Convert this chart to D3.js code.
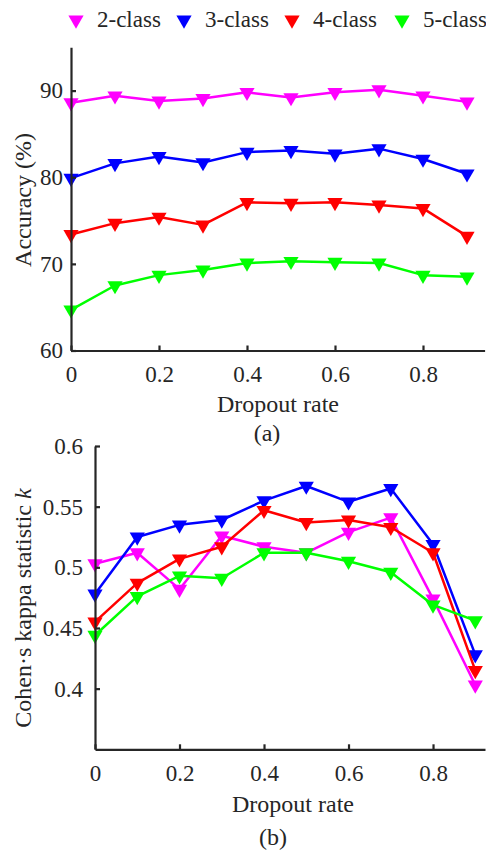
<!DOCTYPE html>
<html>
<head>
<meta charset="utf-8">
<script src="https://cdn.jsdelivr.net/npm/d3@7"></script>
</head>
<body style="margin:0;background:#fff">
<script>
// dropout rates on the x axis
var rates = [0, 0.1, 0.2, 0.3, 0.4, 0.5, 0.6, 0.7, 0.8, 0.9];
var classes = ["2-class", "3-class", "4-class", "5-class"];
var colors = ["#ff00ff", "#0000ff", "#ff0000", "#00ff00"];

// (a) accuracy in %
var acc2 = [88.6, 89.4, 88.8, 89.1, 89.8, 89.2, 89.8, 90.1, 89.4, 88.7];
var acc3 = [79.9, 81.6, 82.4, 81.7, 82.9, 83.1, 82.7, 83.3, 82.1, 80.4];
var acc4 = [73.4, 74.7, 75.4, 74.5, 77.1, 77.0, 77.1, 76.8, 76.4, 73.2];
var acc5 = [64.7, 67.5, 68.7, 69.3, 70.1, 70.3, 70.2, 70.1, 68.7, 68.5];

// (b) Cohen's kappa
var kap2 = [0.503, 0.512, 0.482, 0.526, 0.517, 0.512, 0.529, 0.541, 0.474, 0.403];
var kap3 = [0.478, 0.525, 0.535, 0.539, 0.555, 0.567, 0.554, 0.565, 0.519, 0.428];
var kap4 = [0.455, 0.487, 0.507, 0.517, 0.547, 0.537, 0.539, 0.533, 0.512, 0.415];
var kap5 = [0.444, 0.476, 0.493, 0.491, 0.512, 0.512, 0.505, 0.496, 0.469, 0.456];

var accTicks = [60, 70, 80, 90];
var kapTicks = [0.4, 0.45, 0.5, 0.55, 0.6];
var xTicks = [0, 0.2, 0.4, 0.6, 0.8];

var W = 486, H = 852;
var FONT = '"Liberation Serif", "Times New Roman", serif';
var axisColor = '#262626';

var svg = d3.select('body').append('svg')
  .attr('width', W).attr('height', H);

var tri = d3.symbol().type(d3.symbolTriangle).size(100);

function label(sel, size) {
  return sel.style('font-family', FONT).style('font-size', size + 'px')
    .style('fill', axisColor);
}

function drawPanel(opts) {
  var x = d3.scaleLinear().domain(opts.xDomain).range(opts.xRange);
  var y = d3.scaleLinear().domain(opts.yDomain).range(opts.yRange);
  var g = svg.append('g');

  var line = d3.line()
    .x(function(d, i) { return x(rates[i]); })
    .y(function(d) { return y(d); });

  opts.series.forEach(function(vals, k) {
    g.append('path')
      .attr('d', line(vals))
      .attr('fill', 'none')
      .attr('stroke', colors[k])
      .attr('stroke-width', 2.5)
      .attr('stroke-linejoin', 'round');
    g.selectAll('.m' + k).data(vals).enter().append('path')
      .attr('d', tri)
      .attr('fill', colors[k])
      .attr('transform', function(d, i) {
        return 'translate(' + x(rates[i]) + ',' + y(d) + ') rotate(180)';
      });
  });

  // left + bottom axes, ticks pointing inward
  var yAxis = g.append('g')
    .attr('transform', 'translate(' + opts.xRange[0] + ',0)')
    .call(d3.axisLeft(y).tickValues(opts.yTicks).tickSizeInner(-5).tickSizeOuter(0)
      .tickPadding(opts.yPad).tickFormat(d3.format('')));
  var xAxis = g.append('g')
    .attr('transform', 'translate(0,' + opts.yRange[0] + ')')
    .call(d3.axisBottom(x).tickValues(xTicks).tickSizeInner(-5).tickSizeOuter(0)
      .tickPadding(15).tickFormat(d3.format('')));

  [yAxis, xAxis].forEach(function(a) {
    a.select('.domain').attr('stroke', axisColor).attr('stroke-width', 2.2);
    a.selectAll('line').attr('stroke', axisColor).attr('stroke-width', 2.2);
    label(a.selectAll('text'), 23);
  });

  label(svg.append('text'), 24)
    .attr('x', opts.xLabelX).attr('y', opts.xLabelY)
    .attr('text-anchor', 'middle')
    .text('Dropout rate');

  label(svg.append('text'), 24)
    .attr('x', opts.capX).attr('y', opts.capY)
    .attr('text-anchor', 'middle')
    .text(opts.caption);

  var yl = label(svg.append('text'), 24)
    .attr('transform', 'translate(' + opts.yLabelX + ',' + opts.yLabelY + ') rotate(-90)')
    .attr('text-anchor', 'middle');
  opts.yLabel(yl);
}

drawPanel({
  xDomain: [0, 0.94], xRange: [71, 484.6],
  yDomain: [60, 95], yRange: [350.5, 47.3],
  yTicks: accTicks, yPad: 8,
  series: [acc2, acc3, acc4, acc5],
  xLabelX: 278, xLabelY: 412, capX: 267, capY: 441, caption: '(a)',
  yLabelX: 31, yLabelY: 200,
  yLabel: function(t) { t.text('Accuracy (%)'); }
});

drawPanel({
  xDomain: [0, 0.923], xRange: [95, 485],
  yDomain: [0.35, 0.6], yRange: [749.3, 446],
  yTicks: kapTicks, yPad: 12,
  series: [kap2, kap3, kap4, kap5],
  xLabelX: 293, xLabelY: 812, capX: 273, capY: 845, caption: '(b)',
  yLabelX: 31, yLabelY: 608,
  yLabel: function(t) {
    t.append('tspan').text('Cohen\u00b7s kappa statistic ');
    t.append('tspan').style('font-style', 'italic').text('k');
  }
});

// legend across the top
var legX = [76, 184, 292, 402];
classes.forEach(function(c, k) {
  svg.append('path')
    .attr('d', tri)
    .attr('fill', colors[k])
    .attr('transform', 'translate(' + legX[k] + ',20) rotate(180)');
  label(svg.append('text'), 23)
    .attr('x', legX[k] + 21)
    .attr('y', 27)
    .text(c);
});
</script>
</body>
</html>
